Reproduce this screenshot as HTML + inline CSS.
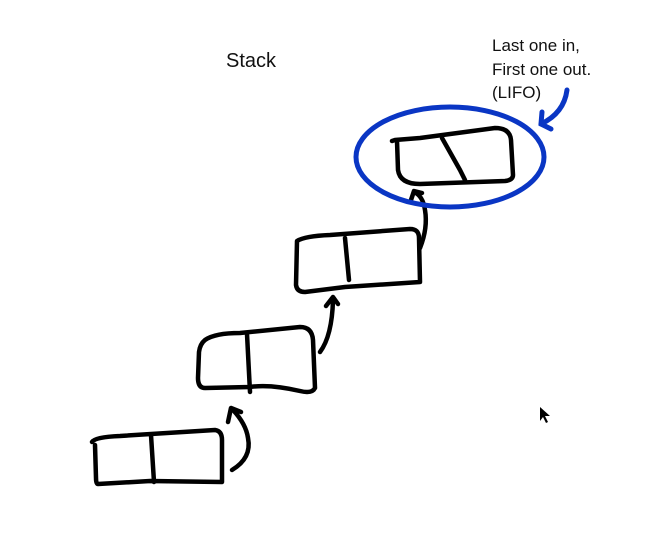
<!DOCTYPE html>
<html><head><style>
body{margin:0;background:#fff;width:665px;height:549px;overflow:hidden}
text{font-family:"Liberation Sans",sans-serif;fill:#111}
</style></head><body>
<svg width="665" height="549" viewBox="0 0 665 549" xmlns="http://www.w3.org/2000/svg">
<text x="226" y="67" font-size="20">Stack</text>
<text x="492" y="51" font-size="17">Last one in,</text>
<text x="492" y="75" font-size="17">First one out.</text>
<text x="492" y="98" font-size="17">(LIFO)</text>
<g fill="none" stroke="#000" stroke-width="4.5" stroke-linecap="round" stroke-linejoin="round">
<path d="M92,442 Q95,437 120,436 L215,430 Q222,431 222,440 L222,482 L150,481 L98,484 Q96,484 96,478 L95,445"/>
<path d="M151,435 L154,482"/>
<path d="M205,340 Q215,333 240,333 L300,327 Q312,327 313,340 L315,388 Q312,394 300,391 Q270,384 250,387 L205,388 Q198,388 198,378 L199,352 Q200,344 205,340"/>
<path d="M247,334 L250,392"/>
<path d="M297,241 Q305,236 330,235 L410,229 Q419,229 419,238 L420,282 L345,287 L305,292 Q297,292 296,285 Z"/>
<path d="M345,238 L349,280"/>
<path d="M392,141 L395,140 L420,138 L495,128 Q510,128 511,140 L513,175 Q513,180 505,181 L420,184 Q400,184 398,170 L397,141"/>
<path d="M442,138 L460,170 L465,180"/>
<path d="M232,470 Q252,458 248,438 Q246,424 233,410"/>
<path d="M228,422 L231,408 L241,412"/>
<path d="M320,352 Q332,336 333,300"/>
<path d="M326,306 L333,297 L338,304"/>
<path d="M420,248 Q428,228 425,210 Q423,196 414,192"/>
<path d="M411,200 L414,191 L422,193"/>
</g>
<ellipse cx="450" cy="157" rx="94" ry="50" fill="none" stroke="#0a36c4" stroke-width="5"/>
<g fill="none" stroke="#0a36c4" stroke-width="5" stroke-linecap="round">
<path d="M567,90 Q564,113 541,124"/>
<path d="M542,112 L541,124 L551,129"/>
</g>
<path d="M540,407 L540,421 L543,417 L546,423 L548,422 L545,416 L550,416 Z" fill="#000"/>
</svg>
</body></html>
